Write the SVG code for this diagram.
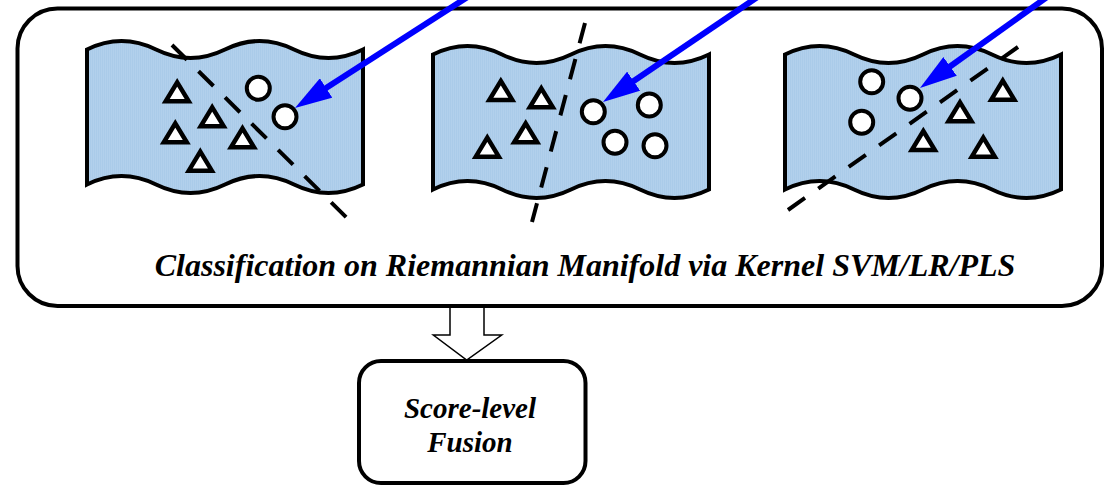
<svg xmlns="http://www.w3.org/2000/svg" width="1106" height="487" viewBox="0 0 1106 487">
  <style>
    .panel { fill: none; stroke: #000; stroke-width: 4; }
    .flag { fill: url(#sheetFill); stroke: #000; stroke-width: 4; stroke-linejoin: miter; }
    .pos { fill: #fff; stroke: #000; stroke-width: 4; }
    .neg { fill: #fff; stroke: #000; stroke-width: 4.5; stroke-linejoin: miter; }
    .boundary { fill: none; stroke: #000; stroke-width: 4; stroke-dasharray: 21 16.3; }
    .ptr { fill: none; stroke: #0000FF; stroke-width: 6; marker-end: url(#blueHead); }
    .hollow { fill: #fff; stroke: #000; stroke-width: 1.5; stroke-linejoin: miter; }
    .label { font-family: "Liberation Serif", "Times New Roman", serif; font-weight: bold; font-style: italic; fill: #000; }
  </style>
  <defs>
    <!-- fine dotted light-blue fill -->
    <pattern id="sheetFill" patternUnits="userSpaceOnUse" width="2" height="2">
      <rect width="2" height="2" fill="#ADCDEA"/>
      <rect width="1" height="1" fill="#B6D3EE"/>
      <rect x="1" y="1" width="1" height="1" fill="#A6C8E7"/>
    </pattern>
    <!-- wavy sheet representing a manifold chart -->
    <path id="sheet" d="M0,0 C23,-11.3 46,-11.3 69,0 C92,11.3 115,11.3 138,0 C161,-11.3 184,-11.3 207,0 C230,11.3 253,11.3 276,0 L276,135 C253,146.3 230,146.3 207,135 C184,123.7 161,123.7 138,135 C115,146.3 92,146.3 69,135 C46,123.7 23,123.7 0,135 Z"/>
    <!-- open triangle sample -->
    <path id="tri" d="M0,-10 L11.5,9 L-11.5,9 Z"/>
    <!-- arrowhead; the line stops 30px short of the tip -->
    <marker id="blueHead" markerUnits="userSpaceOnUse" viewBox="0 0 37 23" markerWidth="37" markerHeight="23" refX="7" refY="11.5" orient="auto">
      <path d="M0,0 L37,11.5 L0,23 Z" fill="#0000FF"/>
    </marker>
  </defs>

  <rect width="1106" height="487" fill="#fff"/>

  <!-- arrow from classifier panel to fusion -->
  <g id="connectors">
    <polygon class="hollow" points="450,306 484,306 484,335 501.7,335 466.7,360 433.3,335 450,335"/>
  </g>

  <!-- classifier panel -->
  <g id="panel">
    <rect class="panel" x="17.5" y="8.5" width="1084.5" height="297.5" rx="40" ry="40"/>
    <text class="label" x="585" y="276" font-size="32" text-anchor="middle">Classification on Riemannian Manifold via Kernel SVM/LR/PLS</text>
  </g>

  <!-- manifold 1 -->
  <g id="manifold1">
    <use href="#sheet" class="flag" transform="translate(87,49.5)"/>
    <use href="#tri" class="neg" x="177.2" y="92.3"/>
    <use href="#tri" class="neg" x="212.2" y="117.3"/>
    <use href="#tri" class="neg" x="175.3" y="133.3"/>
    <use href="#tri" class="neg" x="242.5" y="138.3"/>
    <use href="#tri" class="neg" x="200.3" y="161.7"/>
    <circle class="pos" cx="258.3" cy="88.3" r="11.5"/>
    <circle class="pos" cx="285" cy="116.7" r="11.5"/>
    <line class="boundary" x1="172" y1="45" x2="347" y2="218"/>
  </g>

  <!-- manifold 2 -->
  <g id="manifold2">
    <use href="#sheet" class="flag" transform="translate(433,54.5)"/>
    <use href="#tri" class="neg" x="500.8" y="91"/>
    <use href="#tri" class="neg" x="541.3" y="98.3"/>
    <use href="#tri" class="neg" x="525.7" y="133.3"/>
    <use href="#tri" class="neg" x="487.3" y="147.7"/>
    <circle class="pos" cx="593.3" cy="111.7" r="11.5"/>
    <circle class="pos" cx="649.3" cy="105" r="11.5"/>
    <circle class="pos" cx="615" cy="142.3" r="11.5"/>
    <circle class="pos" cx="655" cy="145.7" r="11.5"/>
    <line class="boundary" x1="585" y1="23" x2="532" y2="222"/>
  </g>

  <!-- manifold 3 -->
  <g id="manifold3">
    <use href="#sheet" class="flag" transform="translate(785,54.5)"/>
    <use href="#tri" class="neg" x="1002.8" y="90.7"/>
    <use href="#tri" class="neg" x="960" y="112.3"/>
    <use href="#tri" class="neg" x="923.3" y="141"/>
    <use href="#tri" class="neg" x="983.3" y="147.7"/>
    <circle class="pos" cx="871.7" cy="81.7" r="11.5"/>
    <circle class="pos" cx="910" cy="98.3" r="11.5"/>
    <circle class="pos" cx="861.7" cy="122.3" r="11.5"/>
    <line class="boundary" x1="1018" y1="47" x2="788" y2="210"/>
  </g>

  <!-- incoming blue pointers -->
  <g id="pointers">
    <line class="ptr" x1="470.7" y1="-5" x2="320.2" y2="91.8"/>
    <line class="ptr" x1="760.5" y1="-5" x2="627.8" y2="85.1"/>
    <line class="ptr" x1="1049.9" y1="-5" x2="944.4" y2="70.5"/>
  </g>

  <!-- fusion step -->
  <g id="fusion">
    <rect class="panel" x="359" y="361" width="226.5" height="122" rx="22" ry="22"/>
    <text class="label" x="470" y="418" font-size="29" text-anchor="middle">Score-level</text>
    <text class="label" x="470" y="452" font-size="29" text-anchor="middle">Fusion</text>
  </g>
</svg>
